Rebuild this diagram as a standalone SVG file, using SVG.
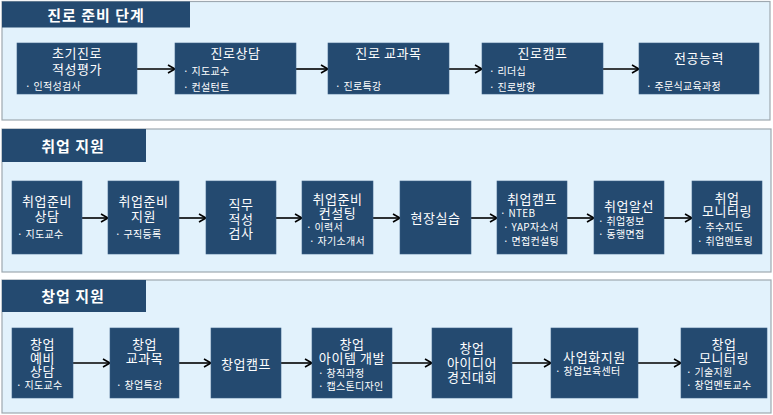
<svg xmlns="http://www.w3.org/2000/svg" width="773" height="415" viewBox="0 0 773 415">
<defs>
<style>
.panel{fill:#e2f2fc;stroke:#9ea8b0;stroke-width:1.2}
.hdr{fill:#244a70}
.box{fill:#244a70;stroke:#3a5f85;stroke-width:0.6}
text{font-family:"Noto Sans CJK KR",sans-serif;fill:#ffffff}
.ht{font-size:15px;font-weight:bold;text-anchor:middle;letter-spacing:1px}
.t{font-size:13px;text-anchor:middle;letter-spacing:0.6px}
.b{font-size:10px;text-anchor:start;letter-spacing:0.3px}
.c{stroke:#000000;stroke-width:1.6;fill:none;marker-end:url(#ah)}
</style>
<marker id="ah" markerWidth="10" markerHeight="10" refX="8" refY="5" orient="auto" markerUnits="userSpaceOnUse">
<polyline points="1,1 8,5 1,9" fill="none" stroke="#000000" stroke-width="1.6"/>
</marker>
</defs>
<rect width="773" height="415" fill="#ffffff"/>

<g id="panel1">
<rect class="panel" x="2" y="1.5" width="768" height="118.5"/>
<rect class="hdr" x="2" y="1.5" width="188" height="26"/>
<text class="ht" x="96" y="21">진로 준비 단계</text>
</g>
<g id="panel2">
<rect class="panel" x="2" y="129" width="769" height="143"/>
<rect class="hdr" x="2" y="129" width="144" height="33"/>
<text class="ht" x="73" y="152">취업 지원</text>
</g>
<g id="panel3">
<rect class="panel" x="2" y="280" width="769" height="133"/>
<rect class="hdr" x="2" y="280" width="144" height="32"/>
<text class="ht" x="73" y="302">창업 지원</text>
</g>

<g id="connectors">
<line class="c" x1="137" y1="69" x2="175" y2="69"/>
<line class="c" x1="296" y1="69" x2="328" y2="69"/>
<line class="c" x1="449" y1="69" x2="482" y2="69"/>
<line class="c" x1="603" y1="69" x2="639" y2="69"/>

<line class="c" x1="82" y1="218" x2="108" y2="218"/>
<line class="c" x1="179" y1="218" x2="206" y2="218"/>
<line class="c" x1="276" y1="218" x2="302" y2="218"/>
<line class="c" x1="373" y1="218" x2="400" y2="218"/>
<line class="c" x1="471" y1="218" x2="497" y2="218"/>
<line class="c" x1="567" y1="218" x2="594" y2="218"/>
<line class="c" x1="664" y1="218" x2="692" y2="218"/>

<line class="c" x1="73" y1="363" x2="110" y2="363"/>
<line class="c" x1="179" y1="363" x2="211" y2="363"/>
<line class="c" x1="281" y1="363" x2="312" y2="363"/>
<line class="c" x1="392" y1="363" x2="432" y2="363"/>
<line class="c" x1="512" y1="363" x2="551" y2="363"/>
<line class="c" x1="638" y1="363" x2="681" y2="363"/>
</g>

<!-- Section 1 -->
<g id="n1-1">
<rect class="box" x="17" y="43" width="120" height="51"/>
<text><tspan class="t" x="77" y="58">초기진로</tspan><tspan class="t" x="77" y="74">적성평가</tspan><tspan class="b" x="25" y="90">· 인적성검사</tspan></text>
</g>
<g id="n1-2">
<rect class="box" x="175" y="43" width="121" height="51"/>
<text><tspan class="t" x="235.5" y="58">진로상담</tspan><tspan class="b" x="183" y="75">· 지도교수</tspan><tspan class="b" x="183" y="91">· 컨설턴트</tspan></text>
</g>
<g id="n1-3">
<rect class="box" x="328" y="43" width="121" height="51"/>
<text><tspan class="t" x="388.5" y="58">진로 교과목</tspan><tspan class="b" x="335" y="90">· 진로특강</tspan></text>
</g>
<g id="n1-4">
<rect class="box" x="482" y="43" width="121" height="51"/>
<text><tspan class="t" x="542.5" y="58">진로캠프</tspan><tspan class="b" x="489" y="75">· 리더십</tspan><tspan class="b" x="489" y="91">· 진로방향</tspan></text>
</g>
<g id="n1-5">
<rect class="box" x="639" y="43" width="120" height="51"/>
<text><tspan class="t" x="699" y="63">전공능력</tspan><tspan class="b" x="646" y="90">· 주문식교육과정</tspan></text>
</g>

<!-- Section 2 -->
<g id="n2-1">
<rect class="box" x="12" y="181" width="70" height="73"/>
<text><tspan class="t" x="47" y="206">취업준비</tspan><tspan class="t" x="47" y="221">상담</tspan><tspan class="b" x="17" y="238">· 지도교수</tspan></text>
</g>
<g id="n2-2">
<rect class="box" x="108" y="181" width="71" height="73"/>
<text><tspan class="t" x="143.5" y="206">취업준비</tspan><tspan class="t" x="143.5" y="221">지원</tspan><tspan class="b" x="115" y="238">· 구직등록</tspan></text>
</g>
<g id="n2-3">
<rect class="box" x="206" y="181" width="70" height="73"/>
<text><tspan class="t" x="241" y="209">직무</tspan><tspan class="t" x="241" y="223.5">적성</tspan><tspan class="t" x="241" y="238">검사</tspan></text>
</g>
<g id="n2-4">
<rect class="box" x="302" y="181" width="71" height="73"/>
<text><tspan class="t" x="337.5" y="204">취업준비</tspan><tspan class="t" x="337.5" y="218">컨설팅</tspan><tspan class="b" x="306" y="231">· 이력서</tspan><tspan class="b" x="309" y="245">· 자기소개서</tspan></text>
</g>
<g id="n2-5">
<rect class="box" x="400" y="181" width="71" height="73"/>
<text class="t" x="435.5" y="223">현장실습</text>
</g>
<g id="n2-6">
<rect class="box" x="497" y="181" width="70" height="73"/>
<text><tspan class="t" x="532" y="204">취업캠프</tspan><tspan class="b" x="500" y="217">· NTEB</tspan><tspan class="b" x="503" y="231">· YAP자소서</tspan><tspan class="b" x="503" y="245">· 면접컨설팅</tspan></text>
</g>
<g id="n2-7">
<rect class="box" x="594" y="181" width="70" height="73"/>
<text><tspan class="t" x="629" y="211">취업알선</tspan><tspan class="b" x="598" y="225">· 취업정보</tspan><tspan class="b" x="598" y="238">· 동행면접</tspan></text>
</g>
<g id="n2-8">
<rect class="box" x="692" y="181" width="70" height="73"/>
<text><tspan class="t" x="727" y="203">취업</tspan><tspan class="t" x="727" y="216">모니터링</tspan><tspan class="b" x="697" y="231">· 추수지도</tspan><tspan class="b" x="697" y="245">· 취업멘토링</tspan></text>
</g>

<!-- Section 3 -->
<g id="n3-1">
<rect class="box" x="12" y="328" width="61" height="70"/>
<text><tspan class="t" x="42.5" y="349">창업</tspan><tspan class="t" x="42.5" y="363">예비</tspan><tspan class="t" x="42.5" y="376">상담</tspan><tspan class="b" x="16" y="389">· 지도교수</tspan></text>
</g>
<g id="n3-2">
<rect class="box" x="110" y="328" width="69" height="70"/>
<text><tspan class="t" x="144.5" y="349">창업</tspan><tspan class="t" x="144.5" y="363">교과목</tspan><tspan class="b" x="116" y="389">· 창업특강</tspan></text>
</g>
<g id="n3-3">
<rect class="box" x="211" y="328" width="70" height="70"/>
<text class="t" x="246" y="369">창업캠프</text>
</g>
<g id="n3-4">
<rect class="box" x="312" y="328" width="80" height="70"/>
<text><tspan class="t" x="352" y="349">창업</tspan><tspan class="t" x="352" y="363">아이템 개발</tspan><tspan class="b" x="318" y="377">· 창직과정</tspan><tspan class="b" x="318" y="390">· 캡스톤디자인</tspan></text>
</g>
<g id="n3-5">
<rect class="box" x="432" y="328" width="80" height="70"/>
<text><tspan class="t" x="472" y="353">창업</tspan><tspan class="t" x="472" y="367.5">아이디어</tspan><tspan class="t" x="472" y="382">경진대회</tspan></text>
</g>
<g id="n3-6">
<rect class="box" x="551" y="328" width="87" height="70"/>
<text><tspan class="t" x="594.5" y="362">사업화지원</tspan><tspan class="b" x="555" y="375">· 창업보육센터</tspan></text>
</g>
<g id="n3-7">
<rect class="box" x="681" y="328" width="86" height="70"/>
<text><tspan class="t" x="724" y="349">창업</tspan><tspan class="t" x="724" y="363">모니터링</tspan><tspan class="b" x="686" y="376">· 기술지원</tspan><tspan class="b" x="686" y="389">· 창업멘토교수</tspan></text>
</g>
</svg>
